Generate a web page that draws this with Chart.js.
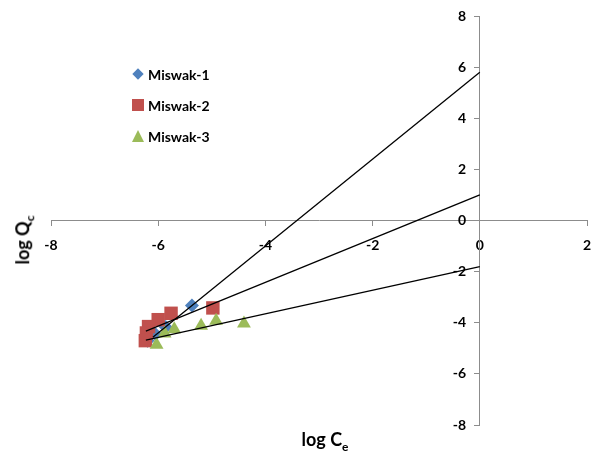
<!DOCTYPE html>
<html>
<head>
<meta charset="utf-8">
<script src="https://cdn.jsdelivr.net/npm/chart.js@4/dist/chart.umd.min.js"></script>
<style>
  body { margin: 0; background: #fff; }
  #wrap { position: relative; width: 592px; height: 454px; }
  .ttl { position: absolute; font: bold 18px Lato, sans-serif; color: #000; white-space: nowrap; }
  .ttl sub { font-size: 12px; }
  #ytitle { left: 24px; top: 240px; transform: translate(-50%, -50%) rotate(-90deg); }
  #xtitle { left: 325px; top: 441px; transform: translate(-50%, -50%); }
  #legend { position: absolute; left: 132px; top: 66px; font: bold 14px Lato, sans-serif; }
  .item { height: 31px; display: flex; align-items: flex-start; }
  .mk { width: 16px; height: 18px; position: relative; }
</style>
</head>
<body>
<div id="wrap">
  <canvas id="chart"></canvas>
  <div id="legend"></div>
  <div class="ttl" id="ytitle">log Q<sub>c</sub></div>
  <div class="ttl" id="xtitle">log C<sub>e</sub></div>
</div>
<script>
// values
const seriesNames = ['Miswak-1', 'Miswak-2', 'Miswak-3'];
const colors = ['#4F81BD', '#C0504D', '#9BBB59'];
const shapes = ['rectRot', 'rect', 'triangle'];

const miswak1X = [-5.37, -5.86, -6.05, -6.2];
const miswak1Y = [-3.33, -4.17, -4.45, -4.7];
const miswak2X = [-4.98, -5.76, -6.0, -6.18, -6.22, -6.24];
const miswak2Y = [-3.42, -3.63, -3.88, -4.15, -4.4, -4.7];
const miswak3X = [-4.4, -4.92, -5.2, -5.7, -5.88, -6.03];
const miswak3Y = [-4.03, -3.92, -4.12, -4.25, -4.42, -4.86];

// linear trend lines (slope, intercept) and where they start
const trendSlope = [1.70, 0.855, 0.462];
const trendIntercept = [5.8, 1.0, -1.8];
const trendStart = [-6.1, -6.23, -6.23];
const trendEnd = 0;

const xTicks = [-8, -6, -4, -2, 0, 2];
const yTicks = [-8, -6, -4, -2, 0, 2, 4, 6, 8];

const xs = [miswak1X, miswak2X, miswak3X];
const ys = [miswak1Y, miswak2Y, miswak3Y];
const radii = [7, 9.5, 8];

const datasets = [];

// trend lines on top
trendSlope.forEach((m, i) => {
  const b = trendIntercept[i];
  datasets.push({
    label: 'trend' + (i + 1),
    data: [{x: trendStart[i], y: m * trendStart[i] + b}, {x: trendEnd, y: m * trendEnd + b}],
    showLine: true,
    borderColor: '#000',
    borderWidth: 1.3,
    pointRadius: 0,
    order: 0
  });
});

seriesNames.forEach((name, i) => {
  datasets.push({
    label: name,
    data: xs[i].map((x, j) => ({x: x, y: ys[i][j]})),
    pointStyle: shapes[i],
    pointRadius: radii[i],
    backgroundColor: colors[i],
    borderColor: colors[i],
    borderWidth: 0,
    order: 3 - i
  });
});

const tickFont = {family: 'Lato', size: 14, weight: 'bold'};

new Chart(document.getElementById('chart'), {
  type: 'scatter',
  data: {datasets: datasets},
  options: {
    responsive: true,
    maintainAspectRatio: false,
    animation: false,
    layout: {autoPadding: false, padding: {left: 51, right: 5, top: 16, bottom: 29}},
    plugins: {legend: {display: false}, tooltip: {enabled: false}},
    scales: {
      x: {
        type: 'linear',
        min: -8, max: 2,
        position: {y: 0},
        // crossing axes: take no room from the plot area
        afterFit: s => { s.height = 0; s.paddingLeft = 0; s.paddingRight = 0; },
        afterBuildTicks: s => { s.ticks = xTicks.map(v => ({value: v})); },
        grid: {display: true, drawOnChartArea: false, drawTicks: true, tickLength: 5, color: '#8c8c8c'},
        border: {display: true, color: '#8c8c8c', width: 1},
        ticks: {font: tickFont, color: '#000', padding: 12, maxRotation: 0}
      },
      y: {
        type: 'linear',
        min: -8, max: 8,
        position: {x: 0},
        afterFit: s => { s.width = 0; s.paddingTop = 0; s.paddingBottom = 0; },
        afterBuildTicks: s => { s.ticks = yTicks.map(v => ({value: v})); },
        grid: {display: true, drawOnChartArea: false, drawTicks: true, tickLength: 5, color: '#8c8c8c'},
        border: {display: true, color: '#8c8c8c', width: 1},
        // labels sit flush on a centred axis, pad them off the line
        ticks: {font: tickFont, color: '#000', callback: v => v + '    '}
      }
    }
  }
});

// legend
const legend = document.getElementById('legend');
seriesNames.forEach((name, i) => {
  const item = document.createElement('div');
  item.className = 'item';
  const mk = document.createElement('div');
  mk.className = 'mk';
  const s = document.createElement('div');
  s.style.position = 'absolute';
  if (shapes[i] === 'rectRot') {
    s.style.cssText += 'left:2px;top:4px;width:8px;height:8px;transform:rotate(45deg);background:' + colors[i];
  } else if (shapes[i] === 'rect') {
    s.style.cssText += 'left:0px;top:2px;width:12px;height:12px;background:' + colors[i];
  } else {
    s.style.cssText += 'left:0px;top:2px;width:0;height:0;border-left:6px solid transparent;border-right:6px solid transparent;border-bottom:12px solid ' + colors[i];
  }
  mk.appendChild(s);
  const t = document.createElement('span');
  t.textContent = name;
  item.appendChild(mk);
  item.appendChild(t);
  legend.appendChild(item);
});
</script>
</body>
</html>
